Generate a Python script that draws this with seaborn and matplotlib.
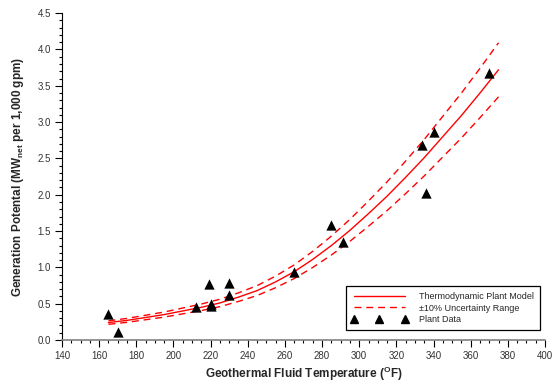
import matplotlib
matplotlib.use("Agg")
import matplotlib.pyplot as plt
import seaborn as sns
import pandas as pd
from matplotlib.lines import Line2D
from matplotlib.ticker import MultipleLocator

# ---- data ----
model_temp = [165, 175, 185, 195, 205, 215, 225, 235, 245, 255, 265,
              275, 285, 295, 305, 315, 325, 335, 345, 355, 365, 375]
model_mw = [0.24, 0.27, 0.31, 0.35, 0.40, 0.45, 0.51, 0.59, 0.68, 0.80, 0.94,
            1.11, 1.30, 1.51, 1.74, 1.98, 2.24, 2.51, 2.80, 3.09, 3.40, 3.72]
upper_mw = [0.264, 0.297, 0.341, 0.385, 0.44, 0.495, 0.561, 0.649, 0.748, 0.88, 1.034,
            1.221, 1.43, 1.661, 1.914, 2.178, 2.464, 2.761, 3.08, 3.399, 3.74, 4.092]
lower_mw = [0.216, 0.243, 0.279, 0.315, 0.36, 0.405, 0.459, 0.531, 0.612, 0.72, 0.846,
            0.999, 1.17, 1.359, 1.566, 1.782, 2.016, 2.259, 2.52, 2.781, 3.06, 3.348]

plant_temp = [165, 170, 212, 219, 220, 220, 230, 230, 265, 285, 291, 334, 336, 340, 370]
plant_mw = [0.36, 0.11, 0.45, 0.77, 0.50, 0.47, 0.79, 0.62, 0.93, 1.58, 1.35, 2.69, 2.02, 2.87, 3.67]

legend_labels = ["Thermodynamic Plant Model", "\u00b110% Uncertainty Range", "Plant Data"]

# ---- styling ----
sns.set_theme(style="white")
plt.rcParams["font.family"] = ["Liberation Sans", "DejaVu Sans"]
plt.rcParams["mathtext.fontset"] = "custom"
plt.rcParams["mathtext.rm"] = "Liberation Sans"
plt.rcParams["mathtext.bf"] = "Liberation Sans:bold"

model_df = pd.DataFrame({"T": model_temp, "model": model_mw,
                         "upper": upper_mw, "lower": lower_mw})
plant_df = pd.DataFrame({"T": plant_temp, "MW": plant_mw})

fig = plt.figure(figsize=(5.52, 3.85), dpi=100)
ax = fig.add_axes([0.1123, 0.1169, 0.875, 0.849])

red = "#ff0000"
dash = (0, (5, 3.5))
sns.lineplot(data=model_df, x="T", y="model", ax=ax, color=red, lw=1.0)
sns.lineplot(data=model_df, x="T", y="upper", ax=ax, color=red, lw=1.0, linestyle=dash)
sns.lineplot(data=model_df, x="T", y="lower", ax=ax, color=red, lw=1.0, linestyle=dash)
sns.scatterplot(data=plant_df, x="T", y="MW", ax=ax, marker="^", color="black",
                s=55, edgecolor="black", linewidth=0, zorder=5)

ax.set_xlim(140, 400)
ax.set_ylim(0, 4.5)
ax.xaxis.set_major_locator(MultipleLocator(20))
ax.xaxis.set_minor_locator(MultipleLocator(5))
ax.yaxis.set_major_locator(MultipleLocator(0.5))
ax.yaxis.set_minor_locator(MultipleLocator(0.1))
ax.yaxis.set_major_formatter(matplotlib.ticker.FormatStrFormatter("%.1f"))

for s in ["top", "right"]:
    ax.spines[s].set_visible(False)
ax.spines["left"].set_color("black")
ax.spines["left"].set_linewidth(0.8)
ax.spines["bottom"].set_color("#808080")
ax.spines["bottom"].set_linewidth(1.2)

ax.tick_params(axis="both", which="major", direction="out", length=5, width=0.8,
               color="black", labelsize=7, labelcolor="#333333", pad=3,
               left=True, bottom=True)
ax.tick_params(axis="both", which="minor", direction="out", length=2.5, width=0.8,
               color="black", left=True, bottom=True)

ax.set_xlabel(r"Geothermal Fluid Temperature ($\mathbf{^{O}}$F)", fontsize=8.5,
              fontweight="bold", labelpad=3)
ax.set_ylabel(r"Generation Potental (MW$_{\mathbf{net}}$ per 1,000 gpm)", fontsize=8.5,
              fontweight="bold", labelpad=8)

handles = [Line2D([], [], color=red, lw=1.0),
           Line2D([], [], color=red, lw=1.0, linestyle=dash),
           Line2D([], [], color="black", marker="^", markersize=5.5, linestyle="None")]
leg = ax.legend(handles, legend_labels, loc="lower right", bbox_to_anchor=(0.995, 0.022),
                fontsize=6.5, frameon=True, fancybox=False, edgecolor="black",
                framealpha=1, handlelength=6.2, numpoints=3, borderpad=0.65,
                labelspacing=0.3, handletextpad=1.3, borderaxespad=0.3)
leg.get_frame().set_linewidth(0.9)

fig.savefig("out.png", dpi=100)
